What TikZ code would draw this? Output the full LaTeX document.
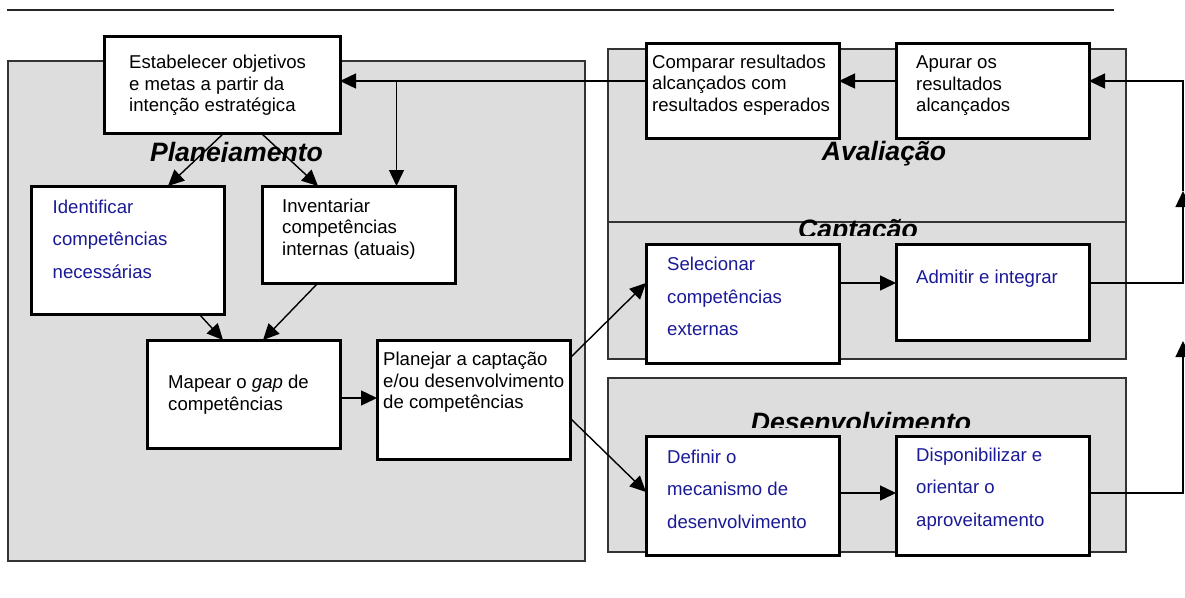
\documentclass[tikz,border=0pt]{standalone}
\usepackage{fontspec}
\setmainfont{Liberation Sans}
\usetikzlibrary{arrows.meta,calc}
\definecolor{panelgray}{RGB}{221,221,221}
\definecolor{txtblue}{RGB}{26,26,150}
\newcommand\mkrect[6]{\node[#1,anchor=north west,outer sep=0pt,inner sep=0pt,minimum width={(#5-#3)*1pt},minimum height={(#6-#4)*1pt}] (#2) at (#3,#4) {};}
\begin{document}
\begin{tikzpicture}[x=1pt,y=-1pt,
  panel/.style={draw=black!80,line width=1.7pt,fill=panelgray},
  box/.style={draw=black,line width=3pt,fill=white},
  arr/.style={line width=1.4pt,-{Triangle[length=16pt,width=15pt]}},
  txt/.style={anchor=west,inner sep=0pt,align=left,font=\fontsize{18.6}{21.5}\selectfont},
  btxt/.style={anchor=west,inner sep=0pt,align=left,text=txtblue,font=\fontsize{18.6}{32.5}\selectfont},
  lbl/.style={inner sep=0pt,anchor=base,font=\fontsize{26.6}{30}\selectfont\bfseries\itshape},
]
\useasboundingbox (0,0) rectangle (1185,597);
% top rule
\coordinate (ruleL) at (7,10);
\coordinate (ruleR) at (1114,10);
\draw[line width=1.5pt,black!85] (ruleL) -- (ruleR);
% panels
\mkrect{panel}{pPlan}{8}{61}{585}{561}
\mkrect{panel}{pAval}{608}{49}{1126}{222}
\mkrect{panel}{pCapt}{608}{222}{1126}{359}
\mkrect{panel}{pDes}{608}{378}{1126}{552}
% panel labels (clipped as in the original)
\begin{scope}
  \clip (0,0) rectangle (600,161);
  \node[lbl] (lPlan) at (236.5,161) {Planejamento};
\end{scope}
\node[lbl] (lAval) at (884,160) {Avaliação};
\begin{scope}
  \clip (600,200) rectangle (1130,235.5);
  \node[lbl] (lCapt) at (858,238) {Captação};
\end{scope}
\begin{scope}
  \clip (600,390) rectangle (1130,427);
  \node[lbl] (lDes) at (861,431) {Desenvolvimento};
\end{scope}
% boxes
\mkrect{box}{est}{104}{36}{340}{133}
\mkrect{box}{ide}{31}{186}{224}{314}
\mkrect{box}{inv}{262}{186}{455}{283}
\mkrect{box}{map}{147}{340}{340}{448}
\mkrect{box}{pla}{377}{340}{570}{459}
\mkrect{box}{com}{646}{43}{839}{138}
\mkrect{box}{apu}{896}{43}{1089}{138}
\mkrect{box}{sel}{646}{244}{839}{363}
\mkrect{box}{adm}{896}{244}{1089}{340}
\mkrect{box}{def}{646}{436}{839}{555}
\mkrect{box}{dis}{896}{436}{1089}{555}
% box texts
\node[txt] (tEst) at (129,85.5) {Estabelecer objetivos\\e metas a partir da\\intenção estratégica};
\node[txt] (tCom) at (652,85) {Comparar resultados\\alcançados com\\resultados esperados};
\node[txt] (tApu) at (916,86) {Apurar os\\resultados\\alcançados};
\node[btxt] (tIde) at (52.5,239) {Identificar\\competências\\necessárias};
\node[txt] (tInv) at (282,229) {Inventariar\\competências\\internas (atuais)};
\node[txt] (tMap) at (168,394.5) {Mapear o \textit{gap} de\\competências};
\node[txt] (tPla) at (383,382.5) {Planejar a captação\\e/ou desenvolvimento\\de competências};
\node[btxt] (tSel) at (667,296.5) {Selecionar\\competências\\externas};
\node[btxt] (tAdm) at (916,279) {Admitir e integrar};
\node[btxt] (tDef) at (667,489) {Definir o\\mecanismo de\\desenvolvimento};
\node[btxt] (tDis) at (916,489) {Disponibilizar e\\orientar o\\aproveitamento};
% helper levels
\coordinate (yA) at (0,81);
\coordinate (yB) at (0,398);
\coordinate (yC) at (0,283);
\coordinate (yD) at (0,493);
\coordinate (br) at (396.5,81);
\coordinate (r1) at (1183,341);
\coordinate (r2) at (1183,191);
% connectors
\draw[arr] (apu.west |- yA) -- (com.east |- yA);
\draw[arr] (com.west |- yA) -- (est.east |- yA);
\draw[arr] (br) -- (br |- inv.north);
\draw[arr] ([xshift=2pt]est.south) -- ([xshift=40.5pt]ide.north);
\draw[arr] ([xshift=39pt]est.south) -- ([xshift=-40.5pt]inv.north);
\draw[arr] ([xshift=71.5pt]ide.south) -- ([xshift=-20.5pt]map.north);
\draw[arr] ([xshift=-40.5pt]inv.south) -- ([xshift=19.5pt]map.north);
\draw[arr] (map.east |- yB) -- (pla.west |- yB);
\draw[arr] ([yshift=41.5pt]pla.east) -- ([yshift=20.5pt]sel.west);
\draw[arr] ([yshift=-18.5pt]pla.east) -- ([yshift=3.5pt]def.west);
\draw[arr] (sel.east |- yC) -- (adm.west |- yC);
\draw[arr] (def.east |- yD) -- (dis.west |- yD);
\draw[arr] (dis.east |- yD) -| (r1);
\draw[arr] (adm.east |- yC) -| (r2);
\draw[arr] (r2) |- (apu.east |- yA);
\end{tikzpicture}
\end{document}
